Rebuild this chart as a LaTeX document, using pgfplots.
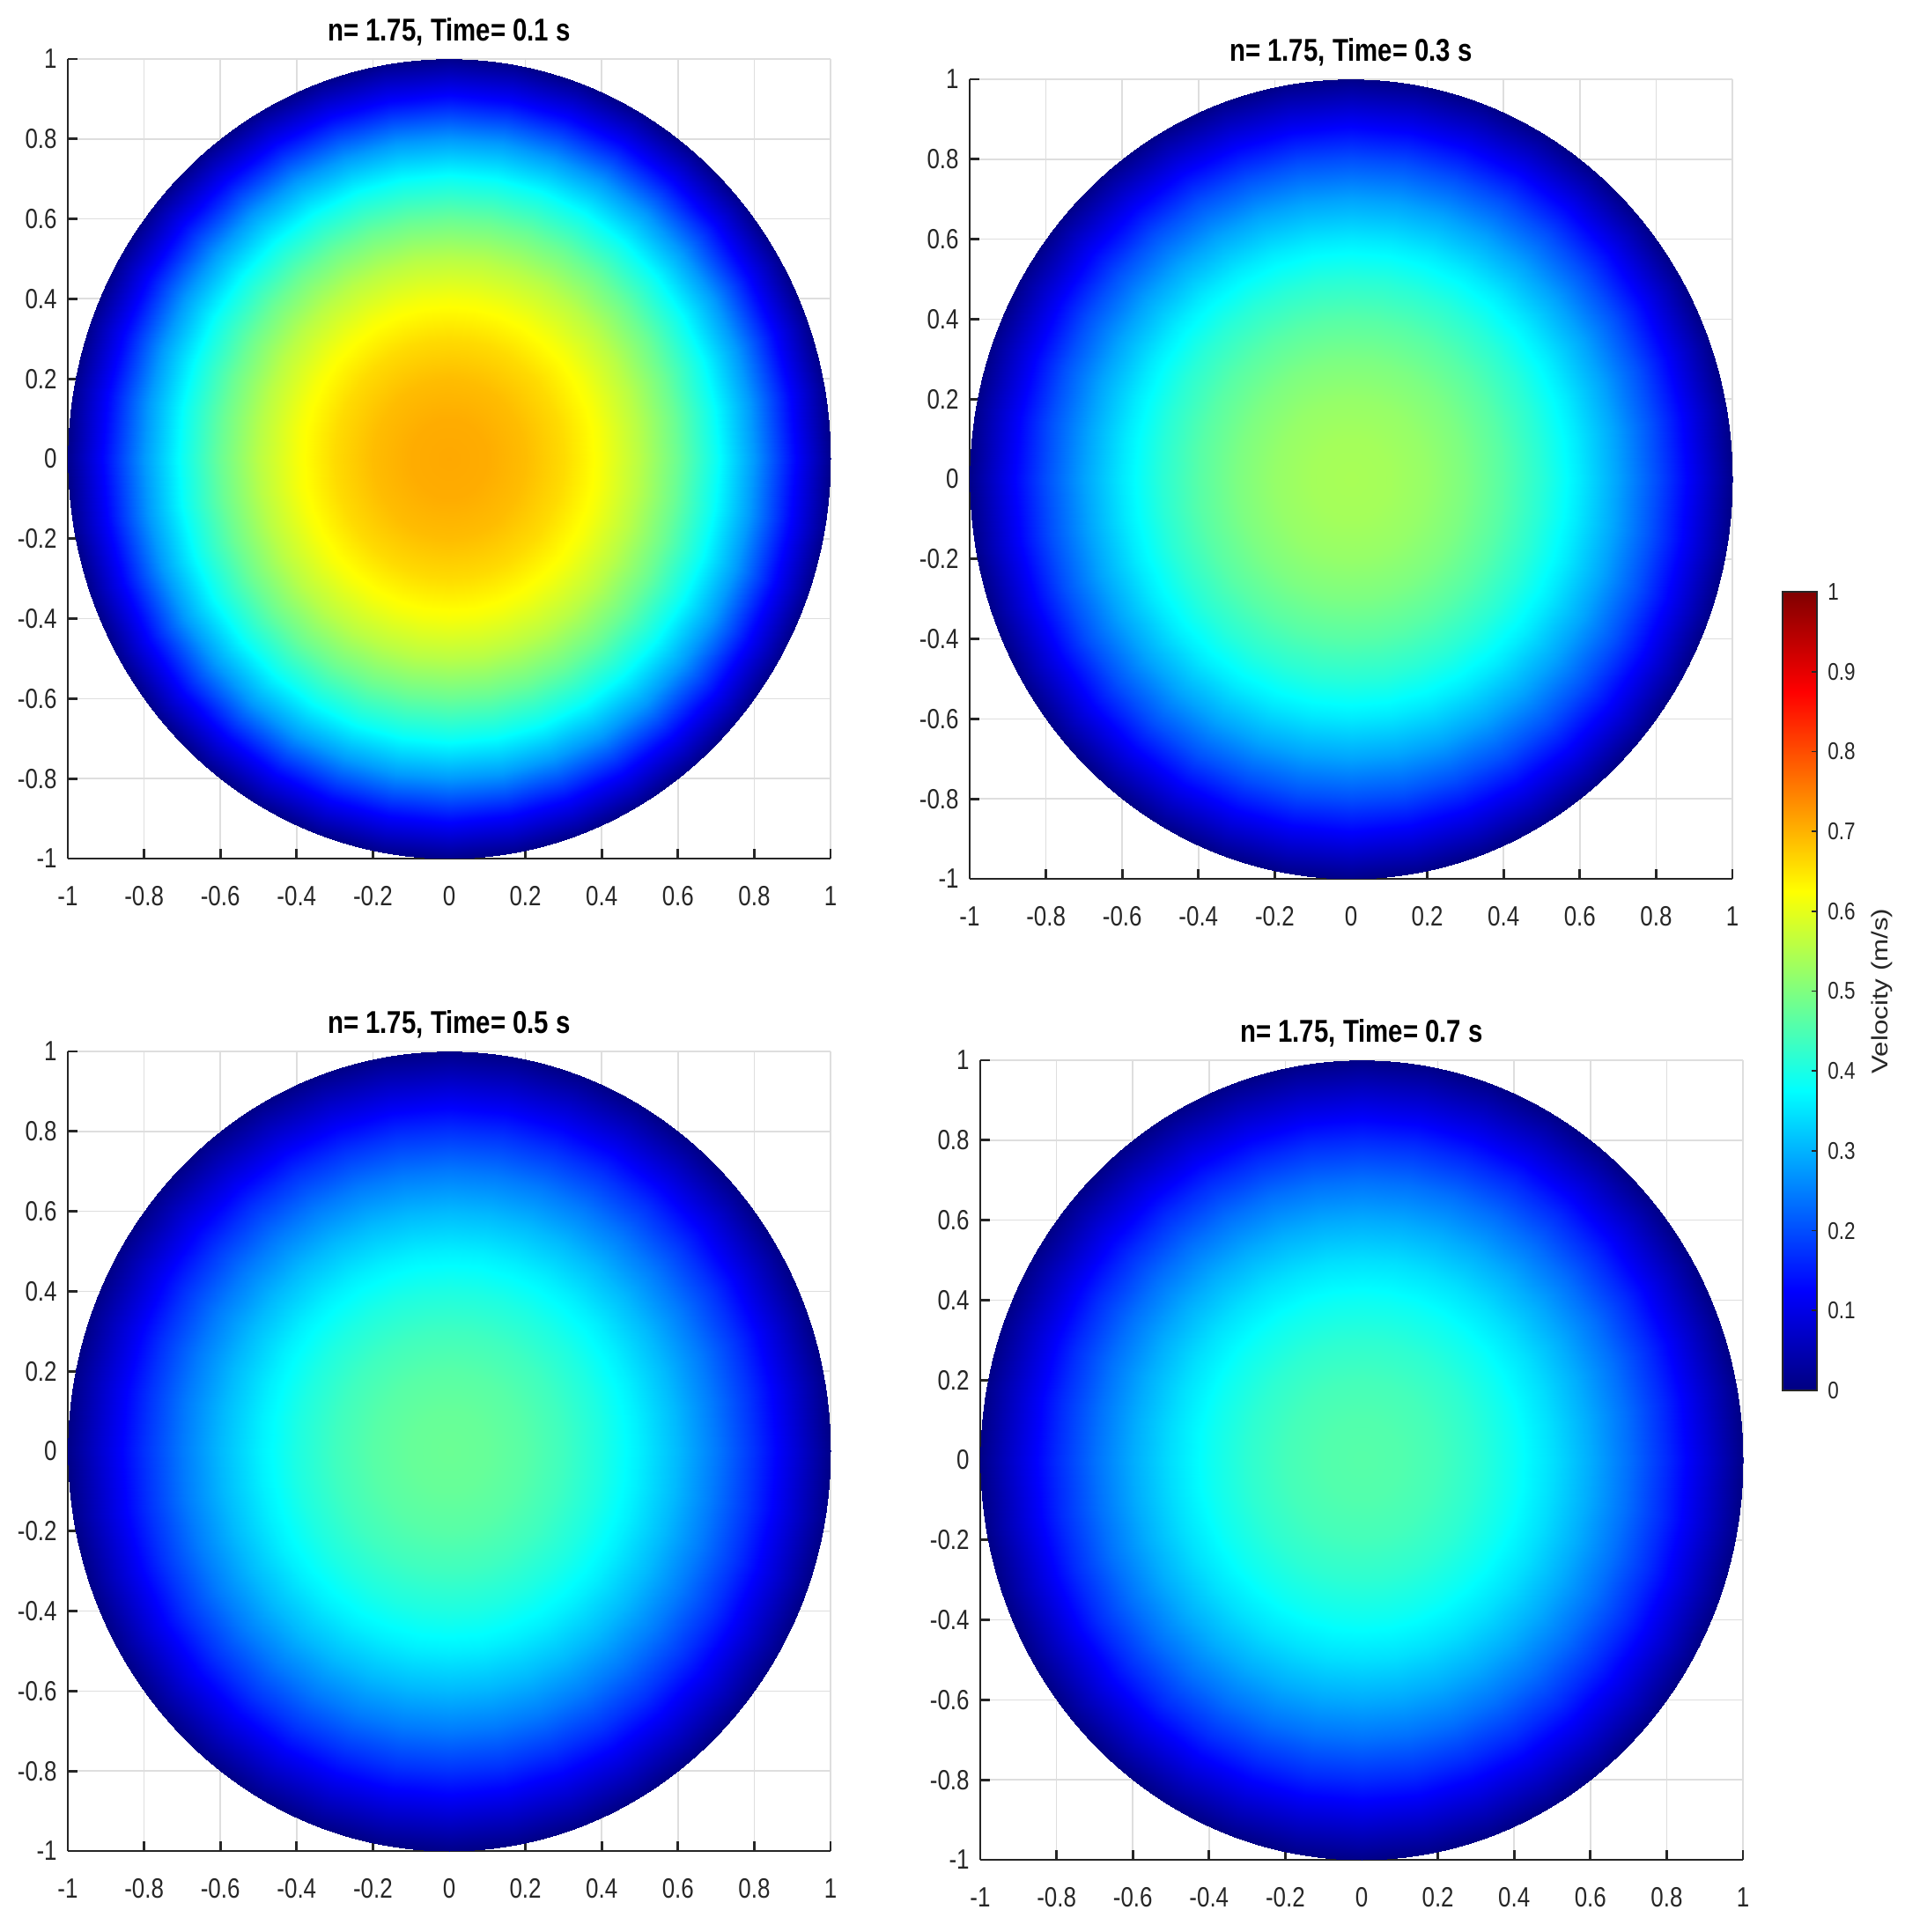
\documentclass[border=0pt]{standalone}
\usepackage{fontspec}
\setmainfont{Liberation Sans}[FakeStretch=0.82]
\newfontfamily\plainsans{Liberation Sans}
\usepackage{graphicx}
\usepackage{pgfplots}
\pgfplotsset{compat=1.18}
\usepackage{pgfplotstable}

% velocity on a polar grid: angle (deg), radius, then one column per time
% va = 0.1 s, vb = 0.3 s, vc = 0.5 s, vd = 0.7 s
% (outer ring sits just past r = 1; the disk is clipped to the unit circle)
\pgfplotstableread{
a r va vb vc vd
0 0 0.710 0.540 0.480 0.460
0 0.1 0.706 0.536 0.475 0.455
0 0.2 0.690 0.522 0.461 0.442
0 0.3 0.660 0.497 0.437 0.419
0 0.4 0.616 0.461 0.403 0.386
0 0.5 0.556 0.414 0.360 0.345
0 0.6 0.479 0.355 0.307 0.294
0 0.7 0.386 0.285 0.245 0.235
0 0.8 0.276 0.202 0.173 0.166
0 0.9 0.137 0.107 0.091 0.087
0 1.01 0 0 0 0
10 0 0.710 0.540 0.480 0.460
10 0.1 0.706 0.536 0.475 0.455
10 0.2 0.690 0.522 0.461 0.442
10 0.3 0.660 0.497 0.437 0.419
10 0.4 0.616 0.461 0.403 0.386
10 0.5 0.556 0.414 0.360 0.345
10 0.6 0.479 0.355 0.307 0.294
10 0.7 0.386 0.285 0.245 0.235
10 0.8 0.276 0.202 0.173 0.166
10 0.9 0.137 0.107 0.091 0.087
10 1.01 0 0 0 0
20 0 0.710 0.540 0.480 0.460
20 0.1 0.706 0.536 0.475 0.455
20 0.2 0.690 0.522 0.461 0.442
20 0.3 0.660 0.497 0.437 0.419
20 0.4 0.616 0.461 0.403 0.386
20 0.5 0.556 0.414 0.360 0.345
20 0.6 0.479 0.355 0.307 0.294
20 0.7 0.386 0.285 0.245 0.235
20 0.8 0.276 0.202 0.173 0.166
20 0.9 0.137 0.107 0.091 0.087
20 1.01 0 0 0 0
30 0 0.710 0.540 0.480 0.460
30 0.1 0.706 0.536 0.475 0.455
30 0.2 0.690 0.522 0.461 0.442
30 0.3 0.660 0.497 0.437 0.419
30 0.4 0.616 0.461 0.403 0.386
30 0.5 0.556 0.414 0.360 0.345
30 0.6 0.479 0.355 0.307 0.294
30 0.7 0.386 0.285 0.245 0.235
30 0.8 0.276 0.202 0.173 0.166
30 0.9 0.137 0.107 0.091 0.087
30 1.01 0 0 0 0
40 0 0.710 0.540 0.480 0.460
40 0.1 0.706 0.536 0.475 0.455
40 0.2 0.690 0.522 0.461 0.442
40 0.3 0.660 0.497 0.437 0.419
40 0.4 0.616 0.461 0.403 0.386
40 0.5 0.556 0.414 0.360 0.345
40 0.6 0.479 0.355 0.307 0.294
40 0.7 0.386 0.285 0.245 0.235
40 0.8 0.276 0.202 0.173 0.166
40 0.9 0.137 0.107 0.091 0.087
40 1.01 0 0 0 0
50 0 0.710 0.540 0.480 0.460
50 0.1 0.706 0.536 0.475 0.455
50 0.2 0.690 0.522 0.461 0.442
50 0.3 0.660 0.497 0.437 0.419
50 0.4 0.616 0.461 0.403 0.386
50 0.5 0.556 0.414 0.360 0.345
50 0.6 0.479 0.355 0.307 0.294
50 0.7 0.386 0.285 0.245 0.235
50 0.8 0.276 0.202 0.173 0.166
50 0.9 0.137 0.107 0.091 0.087
50 1.01 0 0 0 0
60 0 0.710 0.540 0.480 0.460
60 0.1 0.706 0.536 0.475 0.455
60 0.2 0.690 0.522 0.461 0.442
60 0.3 0.660 0.497 0.437 0.419
60 0.4 0.616 0.461 0.403 0.386
60 0.5 0.556 0.414 0.360 0.345
60 0.6 0.479 0.355 0.307 0.294
60 0.7 0.386 0.285 0.245 0.235
60 0.8 0.276 0.202 0.173 0.166
60 0.9 0.137 0.107 0.091 0.087
60 1.01 0 0 0 0
70 0 0.710 0.540 0.480 0.460
70 0.1 0.706 0.536 0.475 0.455
70 0.2 0.690 0.522 0.461 0.442
70 0.3 0.660 0.497 0.437 0.419
70 0.4 0.616 0.461 0.403 0.386
70 0.5 0.556 0.414 0.360 0.345
70 0.6 0.479 0.355 0.307 0.294
70 0.7 0.386 0.285 0.245 0.235
70 0.8 0.276 0.202 0.173 0.166
70 0.9 0.137 0.107 0.091 0.087
70 1.01 0 0 0 0
80 0 0.710 0.540 0.480 0.460
80 0.1 0.706 0.536 0.475 0.455
80 0.2 0.690 0.522 0.461 0.442
80 0.3 0.660 0.497 0.437 0.419
80 0.4 0.616 0.461 0.403 0.386
80 0.5 0.556 0.414 0.360 0.345
80 0.6 0.479 0.355 0.307 0.294
80 0.7 0.386 0.285 0.245 0.235
80 0.8 0.276 0.202 0.173 0.166
80 0.9 0.137 0.107 0.091 0.087
80 1.01 0 0 0 0
90 0 0.710 0.540 0.480 0.460
90 0.1 0.706 0.536 0.475 0.455
90 0.2 0.690 0.522 0.461 0.442
90 0.3 0.660 0.497 0.437 0.419
90 0.4 0.616 0.461 0.403 0.386
90 0.5 0.556 0.414 0.360 0.345
90 0.6 0.479 0.355 0.307 0.294
90 0.7 0.386 0.285 0.245 0.235
90 0.8 0.276 0.202 0.173 0.166
90 0.9 0.137 0.107 0.091 0.087
90 1.01 0 0 0 0
100 0 0.710 0.540 0.480 0.460
100 0.1 0.706 0.536 0.475 0.455
100 0.2 0.690 0.522 0.461 0.442
100 0.3 0.660 0.497 0.437 0.419
100 0.4 0.616 0.461 0.403 0.386
100 0.5 0.556 0.414 0.360 0.345
100 0.6 0.479 0.355 0.307 0.294
100 0.7 0.386 0.285 0.245 0.235
100 0.8 0.276 0.202 0.173 0.166
100 0.9 0.137 0.107 0.091 0.087
100 1.01 0 0 0 0
110 0 0.710 0.540 0.480 0.460
110 0.1 0.706 0.536 0.475 0.455
110 0.2 0.690 0.522 0.461 0.442
110 0.3 0.660 0.497 0.437 0.419
110 0.4 0.616 0.461 0.403 0.386
110 0.5 0.556 0.414 0.360 0.345
110 0.6 0.479 0.355 0.307 0.294
110 0.7 0.386 0.285 0.245 0.235
110 0.8 0.276 0.202 0.173 0.166
110 0.9 0.137 0.107 0.091 0.087
110 1.01 0 0 0 0
120 0 0.710 0.540 0.480 0.460
120 0.1 0.706 0.536 0.475 0.455
120 0.2 0.690 0.522 0.461 0.442
120 0.3 0.660 0.497 0.437 0.419
120 0.4 0.616 0.461 0.403 0.386
120 0.5 0.556 0.414 0.360 0.345
120 0.6 0.479 0.355 0.307 0.294
120 0.7 0.386 0.285 0.245 0.235
120 0.8 0.276 0.202 0.173 0.166
120 0.9 0.137 0.107 0.091 0.087
120 1.01 0 0 0 0
130 0 0.710 0.540 0.480 0.460
130 0.1 0.706 0.536 0.475 0.455
130 0.2 0.690 0.522 0.461 0.442
130 0.3 0.660 0.497 0.437 0.419
130 0.4 0.616 0.461 0.403 0.386
130 0.5 0.556 0.414 0.360 0.345
130 0.6 0.479 0.355 0.307 0.294
130 0.7 0.386 0.285 0.245 0.235
130 0.8 0.276 0.202 0.173 0.166
130 0.9 0.137 0.107 0.091 0.087
130 1.01 0 0 0 0
140 0 0.710 0.540 0.480 0.460
140 0.1 0.706 0.536 0.475 0.455
140 0.2 0.690 0.522 0.461 0.442
140 0.3 0.660 0.497 0.437 0.419
140 0.4 0.616 0.461 0.403 0.386
140 0.5 0.556 0.414 0.360 0.345
140 0.6 0.479 0.355 0.307 0.294
140 0.7 0.386 0.285 0.245 0.235
140 0.8 0.276 0.202 0.173 0.166
140 0.9 0.137 0.107 0.091 0.087
140 1.01 0 0 0 0
150 0 0.710 0.540 0.480 0.460
150 0.1 0.706 0.536 0.475 0.455
150 0.2 0.690 0.522 0.461 0.442
150 0.3 0.660 0.497 0.437 0.419
150 0.4 0.616 0.461 0.403 0.386
150 0.5 0.556 0.414 0.360 0.345
150 0.6 0.479 0.355 0.307 0.294
150 0.7 0.386 0.285 0.245 0.235
150 0.8 0.276 0.202 0.173 0.166
150 0.9 0.137 0.107 0.091 0.087
150 1.01 0 0 0 0
160 0 0.710 0.540 0.480 0.460
160 0.1 0.706 0.536 0.475 0.455
160 0.2 0.690 0.522 0.461 0.442
160 0.3 0.660 0.497 0.437 0.419
160 0.4 0.616 0.461 0.403 0.386
160 0.5 0.556 0.414 0.360 0.345
160 0.6 0.479 0.355 0.307 0.294
160 0.7 0.386 0.285 0.245 0.235
160 0.8 0.276 0.202 0.173 0.166
160 0.9 0.137 0.107 0.091 0.087
160 1.01 0 0 0 0
170 0 0.710 0.540 0.480 0.460
170 0.1 0.706 0.536 0.475 0.455
170 0.2 0.690 0.522 0.461 0.442
170 0.3 0.660 0.497 0.437 0.419
170 0.4 0.616 0.461 0.403 0.386
170 0.5 0.556 0.414 0.360 0.345
170 0.6 0.479 0.355 0.307 0.294
170 0.7 0.386 0.285 0.245 0.235
170 0.8 0.276 0.202 0.173 0.166
170 0.9 0.137 0.107 0.091 0.087
170 1.01 0 0 0 0
180 0 0.710 0.540 0.480 0.460
180 0.1 0.706 0.536 0.475 0.455
180 0.2 0.690 0.522 0.461 0.442
180 0.3 0.660 0.497 0.437 0.419
180 0.4 0.616 0.461 0.403 0.386
180 0.5 0.556 0.414 0.360 0.345
180 0.6 0.479 0.355 0.307 0.294
180 0.7 0.386 0.285 0.245 0.235
180 0.8 0.276 0.202 0.173 0.166
180 0.9 0.137 0.107 0.091 0.087
180 1.01 0 0 0 0
190 0 0.710 0.540 0.480 0.460
190 0.1 0.706 0.536 0.475 0.455
190 0.2 0.690 0.522 0.461 0.442
190 0.3 0.660 0.497 0.437 0.419
190 0.4 0.616 0.461 0.403 0.386
190 0.5 0.556 0.414 0.360 0.345
190 0.6 0.479 0.355 0.307 0.294
190 0.7 0.386 0.285 0.245 0.235
190 0.8 0.276 0.202 0.173 0.166
190 0.9 0.137 0.107 0.091 0.087
190 1.01 0 0 0 0
200 0 0.710 0.540 0.480 0.460
200 0.1 0.706 0.536 0.475 0.455
200 0.2 0.690 0.522 0.461 0.442
200 0.3 0.660 0.497 0.437 0.419
200 0.4 0.616 0.461 0.403 0.386
200 0.5 0.556 0.414 0.360 0.345
200 0.6 0.479 0.355 0.307 0.294
200 0.7 0.386 0.285 0.245 0.235
200 0.8 0.276 0.202 0.173 0.166
200 0.9 0.137 0.107 0.091 0.087
200 1.01 0 0 0 0
210 0 0.710 0.540 0.480 0.460
210 0.1 0.706 0.536 0.475 0.455
210 0.2 0.690 0.522 0.461 0.442
210 0.3 0.660 0.497 0.437 0.419
210 0.4 0.616 0.461 0.403 0.386
210 0.5 0.556 0.414 0.360 0.345
210 0.6 0.479 0.355 0.307 0.294
210 0.7 0.386 0.285 0.245 0.235
210 0.8 0.276 0.202 0.173 0.166
210 0.9 0.137 0.107 0.091 0.087
210 1.01 0 0 0 0
220 0 0.710 0.540 0.480 0.460
220 0.1 0.706 0.536 0.475 0.455
220 0.2 0.690 0.522 0.461 0.442
220 0.3 0.660 0.497 0.437 0.419
220 0.4 0.616 0.461 0.403 0.386
220 0.5 0.556 0.414 0.360 0.345
220 0.6 0.479 0.355 0.307 0.294
220 0.7 0.386 0.285 0.245 0.235
220 0.8 0.276 0.202 0.173 0.166
220 0.9 0.137 0.107 0.091 0.087
220 1.01 0 0 0 0
230 0 0.710 0.540 0.480 0.460
230 0.1 0.706 0.536 0.475 0.455
230 0.2 0.690 0.522 0.461 0.442
230 0.3 0.660 0.497 0.437 0.419
230 0.4 0.616 0.461 0.403 0.386
230 0.5 0.556 0.414 0.360 0.345
230 0.6 0.479 0.355 0.307 0.294
230 0.7 0.386 0.285 0.245 0.235
230 0.8 0.276 0.202 0.173 0.166
230 0.9 0.137 0.107 0.091 0.087
230 1.01 0 0 0 0
240 0 0.710 0.540 0.480 0.460
240 0.1 0.706 0.536 0.475 0.455
240 0.2 0.690 0.522 0.461 0.442
240 0.3 0.660 0.497 0.437 0.419
240 0.4 0.616 0.461 0.403 0.386
240 0.5 0.556 0.414 0.360 0.345
240 0.6 0.479 0.355 0.307 0.294
240 0.7 0.386 0.285 0.245 0.235
240 0.8 0.276 0.202 0.173 0.166
240 0.9 0.137 0.107 0.091 0.087
240 1.01 0 0 0 0
250 0 0.710 0.540 0.480 0.460
250 0.1 0.706 0.536 0.475 0.455
250 0.2 0.690 0.522 0.461 0.442
250 0.3 0.660 0.497 0.437 0.419
250 0.4 0.616 0.461 0.403 0.386
250 0.5 0.556 0.414 0.360 0.345
250 0.6 0.479 0.355 0.307 0.294
250 0.7 0.386 0.285 0.245 0.235
250 0.8 0.276 0.202 0.173 0.166
250 0.9 0.137 0.107 0.091 0.087
250 1.01 0 0 0 0
260 0 0.710 0.540 0.480 0.460
260 0.1 0.706 0.536 0.475 0.455
260 0.2 0.690 0.522 0.461 0.442
260 0.3 0.660 0.497 0.437 0.419
260 0.4 0.616 0.461 0.403 0.386
260 0.5 0.556 0.414 0.360 0.345
260 0.6 0.479 0.355 0.307 0.294
260 0.7 0.386 0.285 0.245 0.235
260 0.8 0.276 0.202 0.173 0.166
260 0.9 0.137 0.107 0.091 0.087
260 1.01 0 0 0 0
270 0 0.710 0.540 0.480 0.460
270 0.1 0.706 0.536 0.475 0.455
270 0.2 0.690 0.522 0.461 0.442
270 0.3 0.660 0.497 0.437 0.419
270 0.4 0.616 0.461 0.403 0.386
270 0.5 0.556 0.414 0.360 0.345
270 0.6 0.479 0.355 0.307 0.294
270 0.7 0.386 0.285 0.245 0.235
270 0.8 0.276 0.202 0.173 0.166
270 0.9 0.137 0.107 0.091 0.087
270 1.01 0 0 0 0
280 0 0.710 0.540 0.480 0.460
280 0.1 0.706 0.536 0.475 0.455
280 0.2 0.690 0.522 0.461 0.442
280 0.3 0.660 0.497 0.437 0.419
280 0.4 0.616 0.461 0.403 0.386
280 0.5 0.556 0.414 0.360 0.345
280 0.6 0.479 0.355 0.307 0.294
280 0.7 0.386 0.285 0.245 0.235
280 0.8 0.276 0.202 0.173 0.166
280 0.9 0.137 0.107 0.091 0.087
280 1.01 0 0 0 0
290 0 0.710 0.540 0.480 0.460
290 0.1 0.706 0.536 0.475 0.455
290 0.2 0.690 0.522 0.461 0.442
290 0.3 0.660 0.497 0.437 0.419
290 0.4 0.616 0.461 0.403 0.386
290 0.5 0.556 0.414 0.360 0.345
290 0.6 0.479 0.355 0.307 0.294
290 0.7 0.386 0.285 0.245 0.235
290 0.8 0.276 0.202 0.173 0.166
290 0.9 0.137 0.107 0.091 0.087
290 1.01 0 0 0 0
300 0 0.710 0.540 0.480 0.460
300 0.1 0.706 0.536 0.475 0.455
300 0.2 0.690 0.522 0.461 0.442
300 0.3 0.660 0.497 0.437 0.419
300 0.4 0.616 0.461 0.403 0.386
300 0.5 0.556 0.414 0.360 0.345
300 0.6 0.479 0.355 0.307 0.294
300 0.7 0.386 0.285 0.245 0.235
300 0.8 0.276 0.202 0.173 0.166
300 0.9 0.137 0.107 0.091 0.087
300 1.01 0 0 0 0
310 0 0.710 0.540 0.480 0.460
310 0.1 0.706 0.536 0.475 0.455
310 0.2 0.690 0.522 0.461 0.442
310 0.3 0.660 0.497 0.437 0.419
310 0.4 0.616 0.461 0.403 0.386
310 0.5 0.556 0.414 0.360 0.345
310 0.6 0.479 0.355 0.307 0.294
310 0.7 0.386 0.285 0.245 0.235
310 0.8 0.276 0.202 0.173 0.166
310 0.9 0.137 0.107 0.091 0.087
310 1.01 0 0 0 0
320 0 0.710 0.540 0.480 0.460
320 0.1 0.706 0.536 0.475 0.455
320 0.2 0.690 0.522 0.461 0.442
320 0.3 0.660 0.497 0.437 0.419
320 0.4 0.616 0.461 0.403 0.386
320 0.5 0.556 0.414 0.360 0.345
320 0.6 0.479 0.355 0.307 0.294
320 0.7 0.386 0.285 0.245 0.235
320 0.8 0.276 0.202 0.173 0.166
320 0.9 0.137 0.107 0.091 0.087
320 1.01 0 0 0 0
330 0 0.710 0.540 0.480 0.460
330 0.1 0.706 0.536 0.475 0.455
330 0.2 0.690 0.522 0.461 0.442
330 0.3 0.660 0.497 0.437 0.419
330 0.4 0.616 0.461 0.403 0.386
330 0.5 0.556 0.414 0.360 0.345
330 0.6 0.479 0.355 0.307 0.294
330 0.7 0.386 0.285 0.245 0.235
330 0.8 0.276 0.202 0.173 0.166
330 0.9 0.137 0.107 0.091 0.087
330 1.01 0 0 0 0
340 0 0.710 0.540 0.480 0.460
340 0.1 0.706 0.536 0.475 0.455
340 0.2 0.690 0.522 0.461 0.442
340 0.3 0.660 0.497 0.437 0.419
340 0.4 0.616 0.461 0.403 0.386
340 0.5 0.556 0.414 0.360 0.345
340 0.6 0.479 0.355 0.307 0.294
340 0.7 0.386 0.285 0.245 0.235
340 0.8 0.276 0.202 0.173 0.166
340 0.9 0.137 0.107 0.091 0.087
340 1.01 0 0 0 0
350 0 0.710 0.540 0.480 0.460
350 0.1 0.706 0.536 0.475 0.455
350 0.2 0.690 0.522 0.461 0.442
350 0.3 0.660 0.497 0.437 0.419
350 0.4 0.616 0.461 0.403 0.386
350 0.5 0.556 0.414 0.360 0.345
350 0.6 0.479 0.355 0.307 0.294
350 0.7 0.386 0.285 0.245 0.235
350 0.8 0.276 0.202 0.173 0.166
350 0.9 0.137 0.107 0.091 0.087
350 1.01 0 0 0 0
360 0 0.710 0.540 0.480 0.460
360 0.1 0.706 0.536 0.475 0.455
360 0.2 0.690 0.522 0.461 0.442
360 0.3 0.660 0.497 0.437 0.419
360 0.4 0.616 0.461 0.403 0.386
360 0.5 0.556 0.414 0.360 0.345
360 0.6 0.479 0.355 0.307 0.294
360 0.7 0.386 0.285 0.245 0.235
360 0.8 0.276 0.202 0.173 0.166
360 0.9 0.137 0.107 0.091 0.087
360 1.01 0 0 0 0
}\disk

\pgfplotsset{
  diskaxis/.style={
    anchor=south west, scale only axis,
    width=86.6mm, height=90.8mm,
    xmin=-1, xmax=1, ymin=-1, ymax=1,
    xtick={-1,-0.8,-0.6,-0.4,-0.2,0,0.2,0.4,0.6,0.8,1},
    ytick={-1,-0.8,-0.6,-0.4,-0.2,0,0.2,0.4,0.6,0.8,1},
    axis x line*=bottom, axis y line*=left,
    tick align=inside, major tick length=1.1mm,
    grid=major, major grid style={draw=black!13, line width=0.5pt},
    axis line style={draw=black!85, line width=0.8pt},
    tick style={draw=black!85, line width=0.8pt},
    ticklabel style={font=\fontsize{9}{10}\selectfont, text=black!85},
    xticklabel style={yshift=-1.9mm},
    /pgf/number format/assume math mode=true,
    title style={font=\bfseries\fontsize{10.2}{12}\selectfont, yshift=-1.9mm},
    colormap/jet, point meta min=0, point meta max=1,
  },
  diskplot/.style={surf, shader=interp, data cs=polar, point meta=explicit,
    mesh/ordering=y varies, mesh/rows=11, mesh/cols=37},
}

\begin{document}
\begin{tikzpicture}
\useasboundingbox (0,0) rectangle (216.2mm,219.4mm);

\begin{axis}[diskaxis, at={(7.7mm,121.9mm)}, title={n= 1.75, Time= 0.1 s}]
\clip (axis cs:0,0) ellipse [x radius=1, y radius=1];
\addplot[diskplot] table[x=a, y=r, meta=va] {\disk};
\end{axis}

\begin{axis}[diskaxis, at={(110.1mm,119.6mm)}, title={n= 1.75, Time= 0.3 s}]
\clip (axis cs:0,0) ellipse [x radius=1, y radius=1];
\addplot[diskplot] table[x=a, y=r, meta=vb] {\disk};
\end{axis}

\begin{axis}[diskaxis, at={(7.7mm,9.2mm)}, title={n= 1.75, Time= 0.5 s}]
\clip (axis cs:0,0) ellipse [x radius=1, y radius=1];
\addplot[diskplot] table[x=a, y=r, meta=vc] {\disk};
\end{axis}

\begin{axis}[diskaxis, at={(111.3mm,8.2mm)}, title={n= 1.75, Time= 0.7 s}]
\clip (axis cs:0,0) ellipse [x radius=1, y radius=1];
\addplot[diskplot] table[x=a, y=r, meta=vd] {\disk};
\end{axis}

% colour bar
\begin{axis}[
  at={(202.4mm,61.5mm)}, anchor=south west, scale only axis,
  width=3.9mm, height=90.7mm,
  xmin=0, xmax=1, ymin=0, ymax=1,
  xtick=\empty,
  ytick={0,0.1,0.2,0.3,0.4,0.5,0.6,0.7,0.8,0.9,1},
  ytick pos=right, yticklabel pos=right,
  tick align=inside, major tick length=0.6mm,
  axis on top, clip=false,
  axis line style={draw=black!85, line width=0.5pt},
  tick style={draw=black!85, line width=0.5pt},
  ticklabel style={font=\fontsize{7.8}{9}\selectfont, text=black!85},
  /pgf/number format/assume math mode=true,
  colormap/jet, point meta min=0, point meta max=1,
]
\addplot[surf, shader=interp, point meta=y, mesh/cols=2] coordinates {(0,0) (1,0) (0,1) (1,1)};
\node[rotate=90, text=black!85] at (axis description cs:2.9,0.5)
  {\scalebox{1}[0.82]{\plainsans\fontsize{8.9}{10}\selectfont Velocity (m/s)}};
\end{axis}
\end{tikzpicture}
\end{document}
